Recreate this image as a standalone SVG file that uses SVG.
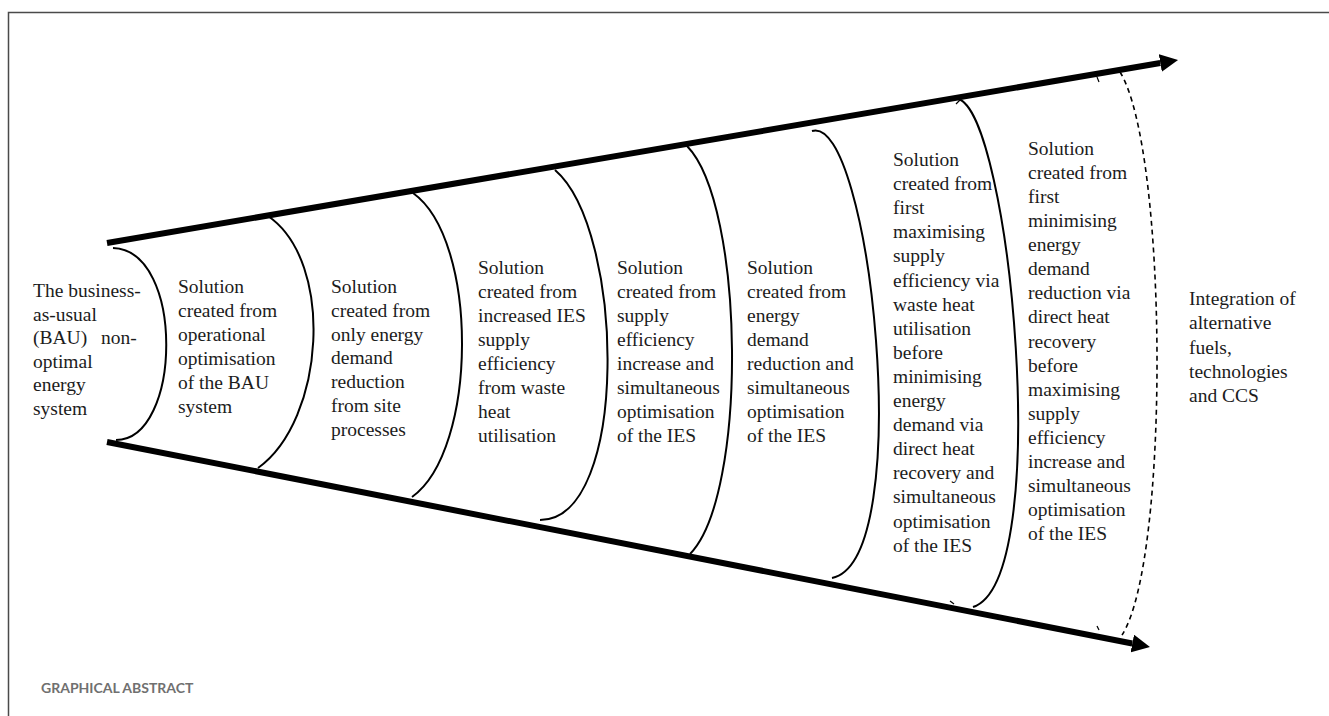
<svg xmlns="http://www.w3.org/2000/svg" width="1329" height="716" viewBox="0 0 1329 716">
<defs>
<marker id="ah" viewBox="0 0 10 10" refX="0" refY="5" markerWidth="3" markerHeight="3" orient="auto" markerUnits="strokeWidth">
<path d="M0,0 L10,5 L0,10 z" fill="#000"/>
</marker>
<style>
text.t{font-family:'Liberation Serif','Times New Roman',Times,Tinos,'Nimbus Roman','Nimbus Roman No9 L',FreeSerif,'DejaVu Serif','Noto Serif',Georgia,serif;font-size:19.5px;fill:#1c1c1c}
.arc{fill:none;stroke:#000;stroke-width:2}
.dash{fill:none;stroke:#000;stroke-width:1.6;stroke-dasharray:5 4}
.axis{fill:none;stroke:#000;stroke-width:6;marker-end:url(#ah)}
.tick{fill:none;stroke:#000;stroke-width:1.2}
.cap{font-family:Lato,'Open Sans',sans-serif;font-weight:700;font-size:14px;fill:#707070}
</style>
</defs>
<rect width="1329" height="716" fill="#fff"/>
<rect x="8.5" y="12.5" width="1400" height="800" fill="none" stroke="#4a4a4a" stroke-width="1.5"/>

<g id="connectors">
<line class="axis" x1="107" y1="243" x2="1160.3" y2="63"/>
<line class="axis" x1="107" y1="442" x2="1132.3" y2="643.5"/>
<path class="arc" d="M113,248 C185,250 182,440 116,440"/>
<path class="arc" d="M268,216 C335,262 325,420 258,468"/>
<path class="arc" d="M413,193 C479,240 478,450 412,497"/>
<path class="arc" d="M555,170 C625,230 630,520 540,520"/>
<path class="arc" d="M687,146 C745,205 748,495 690,554"/>
<path class="arc" d="M812,131 C870,112 918,560 832,578"/>
<path class="arc" d="M958,99 C1010,112 1055,580 973,607"/>
<path class="dash" d="M1120,72 C1168,150 1170,560 1122,635"/>
<path class="tick" d="M955,96 L960,100 L956,104"/>
<path class="tick" d="M950,601 L954,604"/>
<path class="tick" d="M1097,77 L1099,82"/>
<path class="tick" d="M1097,626 L1099,630"/>
</g>

<g id="n1"><text class="t">
<tspan x="33" y="297">The business-</tspan><tspan x="33" y="320.5">as-usual</tspan><tspan x="33" y="344" word-spacing="9">(BAU) non-</tspan><tspan x="33" y="367.5">optimal</tspan><tspan x="33" y="391">energy</tspan><tspan x="33" y="414.5">system</tspan></text></g>

<g id="n2"><text class="t">
<tspan x="178" y="293">Solution</tspan><tspan x="178" y="317">created from</tspan><tspan x="178" y="341">operational</tspan><tspan x="178" y="365">optimisation</tspan><tspan x="178" y="389">of the BAU</tspan><tspan x="178" y="413">system</tspan></text></g>

<g id="n3"><text class="t">
<tspan x="331" y="293">Solution</tspan><tspan x="331" y="316.8">created from</tspan><tspan x="331" y="340.6">only energy</tspan><tspan x="331" y="364.4">demand</tspan><tspan x="331" y="388.2">reduction</tspan><tspan x="331" y="412">from site</tspan><tspan x="331" y="435.8">processes</tspan></text></g>

<g id="n4"><text class="t">
<tspan x="478" y="274">Solution</tspan><tspan x="478" y="298">created from</tspan><tspan x="478" y="322">increased IES</tspan><tspan x="478" y="346">supply</tspan><tspan x="478" y="370">efficiency</tspan><tspan x="478" y="394">from waste</tspan><tspan x="478" y="418">heat</tspan><tspan x="478" y="442">utilisation</tspan></text></g>

<g id="n5"><text class="t">
<tspan x="617" y="274">Solution</tspan><tspan x="617" y="298">created from</tspan><tspan x="617" y="322">supply</tspan><tspan x="617" y="346">efficiency</tspan><tspan x="617" y="370">increase and</tspan><tspan x="617" y="394">simultaneous</tspan><tspan x="617" y="418">optimisation</tspan><tspan x="617" y="442">of the IES</tspan></text></g>

<g id="n6"><text class="t">
<tspan x="747" y="274">Solution</tspan><tspan x="747" y="298">created from</tspan><tspan x="747" y="322">energy</tspan><tspan x="747" y="346">demand</tspan><tspan x="747" y="370">reduction and</tspan><tspan x="747" y="394">simultaneous</tspan><tspan x="747" y="418">optimisation</tspan><tspan x="747" y="442">of the IES</tspan></text></g>

<g id="n7"><text class="t">
<tspan x="893" y="166">Solution</tspan><tspan x="893" y="190.1">created from</tspan><tspan x="893" y="214.2">first</tspan><tspan x="893" y="238.3">maximising</tspan><tspan x="893" y="262.4">supply</tspan><tspan x="893" y="286.5">efficiency via</tspan><tspan x="893" y="310.6">waste heat</tspan><tspan x="893" y="334.7">utilisation</tspan><tspan x="893" y="358.8">before</tspan><tspan x="893" y="382.9">minimising</tspan><tspan x="893" y="407">energy</tspan><tspan x="893" y="431.1">demand via</tspan><tspan x="893" y="455.2">direct heat</tspan><tspan x="893" y="479.3">recovery and</tspan><tspan x="893" y="503.4">simultaneous</tspan><tspan x="893" y="527.5">optimisation</tspan><tspan x="893" y="551.6">of the IES</tspan></text></g>

<g id="n8"><text class="t">
<tspan x="1028" y="155">Solution</tspan><tspan x="1028" y="179.1">created from</tspan><tspan x="1028" y="203.1">first</tspan><tspan x="1028" y="227.2">minimising</tspan><tspan x="1028" y="251.2">energy</tspan><tspan x="1028" y="275.3">demand</tspan><tspan x="1028" y="299.4">reduction via</tspan><tspan x="1028" y="323.4">direct heat</tspan><tspan x="1028" y="347.5">recovery</tspan><tspan x="1028" y="371.5">before</tspan><tspan x="1028" y="395.6">maximising</tspan><tspan x="1028" y="419.7">supply</tspan><tspan x="1028" y="443.7">efficiency</tspan><tspan x="1028" y="467.8">increase and</tspan><tspan x="1028" y="491.8">simultaneous</tspan><tspan x="1028" y="515.9">optimisation</tspan><tspan x="1028" y="540">of the IES</tspan></text></g>

<g id="n9"><text class="t">
<tspan x="1189" y="305">Integration of</tspan><tspan x="1189" y="329.2">alternative</tspan><tspan x="1189" y="353.5">fuels,</tspan><tspan x="1189" y="377.7">technologies</tspan><tspan x="1189" y="402">and CCS</tspan></text></g>

<g id="caption"><text class="cap" x="41" y="693">GRAPHICAL ABSTRACT</text></g>
</svg>
